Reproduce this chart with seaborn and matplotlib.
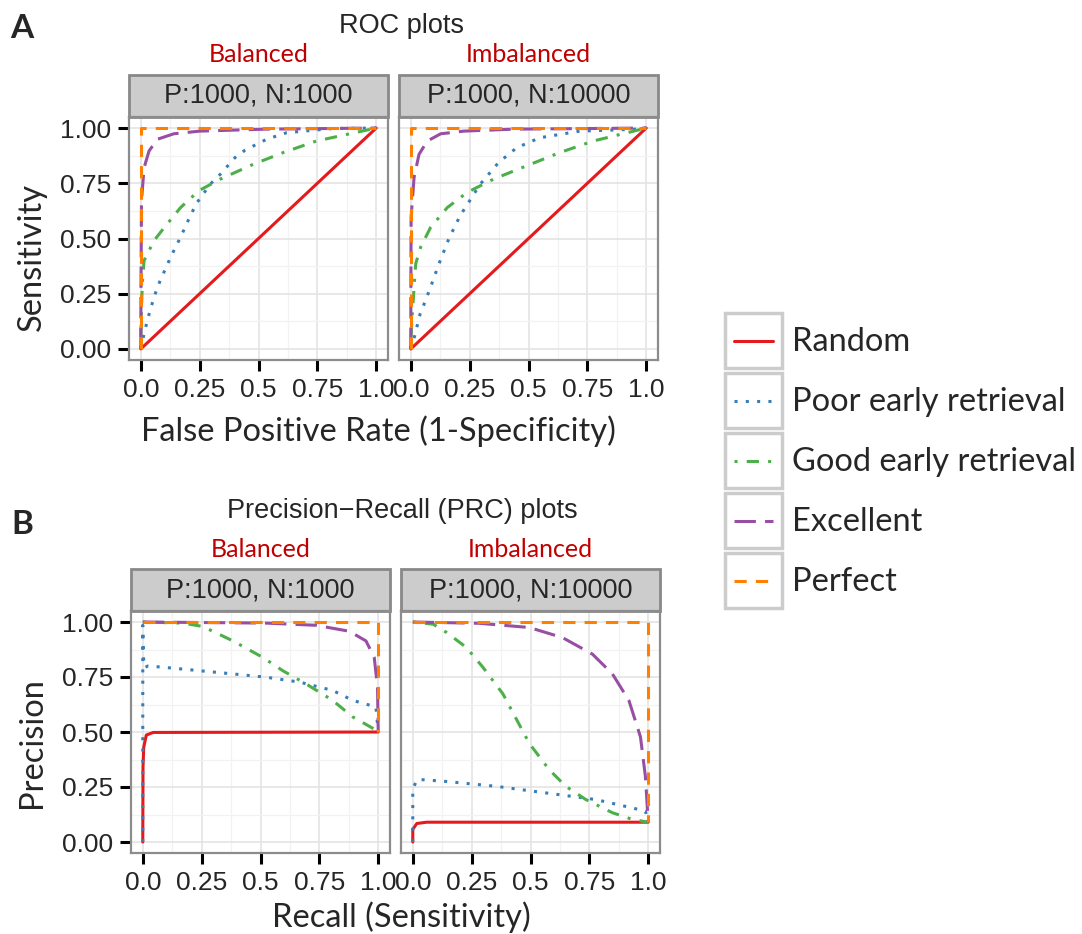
import numpy as np
import pandas as pd
import seaborn as sns
import matplotlib.pyplot as plt
from matplotlib.lines import Line2D
from matplotlib.patches import Rectangle
from matplotlib.legend_handler import HandlerLine2D

# %% data
curves = ['Random', 'Poor early retrieval', 'Good early retrieval', 'Excellent', 'Perfect']
colors = ['#E41A1C', '#377EB8', '#4DAF4A', '#984EA3', '#FF7F00']
linestyles = ['', (1, 2.7), (1, 3, 4, 3), (7, 3), (4, 3)]
strip_labels = ['P:1000, N:1000', 'P:1000, N:10000']
group_labels = ['Balanced', 'Imbalanced']
xtick_vals = [0, 0.25, 0.5, 0.75, 1.0]
xtick_text = ['0.0', '0.25', '0.5', '0.75', '1.0']
ytick_text = ['0.00', '0.25', '0.50', '0.75', '1.00']

# ROC, balanced
roc_bal_random_x = [0, 1]
roc_bal_random_y = [0, 1]
roc_bal_poor_x = [0, 0.01, 0.028, 0.044, 0.06, 0.08, 0.127, 0.169, 0.214, 0.24, 0.295, 0.338, 0.4, 0.443, 0.534, 0.62, 0.816, 1.0]
roc_bal_poor_y = [0, 0.05, 0.13, 0.19, 0.246, 0.303, 0.416, 0.506, 0.611, 0.664, 0.746, 0.791, 0.866, 0.9, 0.949, 0.979, 0.998, 1.0]
roc_bal_good_x = [0, 0.001, 0.003, 0.007, 0.014, 0.056, 0.1, 0.169, 0.246, 0.338, 0.478, 0.605, 0.745, 1.0]
roc_bal_good_y = [0, 0.07, 0.19, 0.303, 0.4, 0.49, 0.55, 0.64, 0.716, 0.769, 0.836, 0.889, 0.941, 1.0]
roc_bal_exc_x = [0, 0.001, 0.003, 0.014, 0.035, 0.07, 0.14, 0.25, 0.53, 1.0]
roc_bal_exc_y = [0, 0.3, 0.67, 0.82, 0.896, 0.949, 0.974, 0.986, 0.995, 1.0]
roc_bal_perf_x = [0, 0, 1]
roc_bal_perf_y = [0, 1, 1]

# ROC, imbalanced
roc_imb_random_x = [0, 1]
roc_imb_random_y = [0, 1]
roc_imb_poor_x = [0, 0.014, 0.04, 0.063, 0.084, 0.12, 0.162, 0.21, 0.246, 0.295, 0.373, 0.45, 0.548, 0.717, 0.942, 1.0]
roc_imb_poor_y = [0, 0.048, 0.16, 0.22, 0.28, 0.386, 0.5, 0.604, 0.664, 0.746, 0.844, 0.911, 0.956, 0.986, 0.994, 1.0]
roc_imb_good_x = [0, 0.003, 0.014, 0.021, 0.042, 0.084, 0.155, 0.24, 0.352, 0.492, 0.633, 0.774, 1.0]
roc_imb_good_y = [0, 0.1, 0.28, 0.386, 0.461, 0.55, 0.64, 0.709, 0.769, 0.829, 0.889, 0.941, 1.0]
roc_imb_exc_x = [0, 0.0005, 0.0014, 0.014, 0.035, 0.07, 0.127, 0.225, 0.436, 1.0]
roc_imb_exc_y = [0, 0.3, 0.596, 0.776, 0.881, 0.941, 0.974, 0.986, 0.995, 1.0]
roc_imb_perf_x = [0, 0, 1]
roc_imb_perf_y = [0, 1, 1]

# PRC, balanced
prc_bal_random_x = [0, 0.001, 0.004, 0.015, 0.044, 1.0]
prc_bal_random_y = [0, 0.34, 0.43, 0.486, 0.498, 0.5]
prc_bal_poor_x = [0, 0, 0.003, 0.008, 0.022, 0.058, 0.17, 0.383, 0.524, 0.665, 0.806, 0.891, 0.99, 1.0]
prc_bal_poor_y = [0, 0.985, 0.838, 0.793, 0.8, 0.797, 0.786, 0.764, 0.749, 0.727, 0.689, 0.644, 0.614, 0.5]
prc_bal_good_x = [0, 0.169, 0.254, 0.383, 0.51, 0.594, 0.693, 0.806, 0.891, 0.99, 1.0]
prc_bal_good_y = [1, 0.995, 0.98, 0.914, 0.839, 0.779, 0.719, 0.644, 0.569, 0.509, 0.5]
prc_bal_exc_x = [0, 0.524, 0.736, 0.877, 0.948, 0.983, 0.997, 1.0]
prc_bal_exc_y = [1, 0.995, 0.985, 0.958, 0.914, 0.839, 0.704, 0.5]
prc_bal_perf_x = [0, 1, 1]
prc_bal_perf_y = [1, 1, 0.5]

# PRC, imbalanced
prc_imb_random_x = [0, 0, 0.017, 0.059, 1.0]
prc_imb_random_y = [0, 0.057, 0.084, 0.09, 0.09]
prc_imb_poor_x = [0, 0, 0.017, 0.045, 0.144, 0.355, 0.566, 0.777, 0.932, 0.988, 1.0]
prc_imb_poor_y = [0, 0.238, 0.283, 0.283, 0.275, 0.253, 0.223, 0.193, 0.155, 0.14, 0.09]
prc_imb_good_x = [0, 0.087, 0.144, 0.228, 0.298, 0.383, 0.495, 0.58, 0.65, 0.735, 0.848, 0.932, 1.0]
prc_imb_good_y = [1, 0.99, 0.952, 0.884, 0.794, 0.673, 0.448, 0.328, 0.253, 0.193, 0.133, 0.103, 0.09]
prc_imb_exc_x = [0, 0.284, 0.495, 0.636, 0.763, 0.848, 0.918, 0.967, 0.988, 1.0]
prc_imb_exc_y = [1, 0.994, 0.975, 0.929, 0.854, 0.764, 0.643, 0.478, 0.298, 0.09]
prc_imb_perf_x = [0, 1, 1]
prc_imb_perf_y = [1, 1, 0.09]

panels = {
    'roc_bal': [(roc_bal_random_x, roc_bal_random_y), (roc_bal_poor_x, roc_bal_poor_y),
                (roc_bal_good_x, roc_bal_good_y), (roc_bal_exc_x, roc_bal_exc_y), (roc_bal_perf_x, roc_bal_perf_y)],
    'roc_imb': [(roc_imb_random_x, roc_imb_random_y), (roc_imb_poor_x, roc_imb_poor_y),
                (roc_imb_good_x, roc_imb_good_y), (roc_imb_exc_x, roc_imb_exc_y), (roc_imb_perf_x, roc_imb_perf_y)],
    'prc_bal': [(prc_bal_random_x, prc_bal_random_y), (prc_bal_poor_x, prc_bal_poor_y),
                (prc_bal_good_x, prc_bal_good_y), (prc_bal_exc_x, prc_bal_exc_y), (prc_bal_perf_x, prc_bal_perf_y)],
    'prc_imb': [(prc_imb_random_x, prc_imb_random_y), (prc_imb_poor_x, prc_imb_poor_y),
                (prc_imb_good_x, prc_imb_good_y), (prc_imb_exc_x, prc_imb_exc_y), (prc_imb_perf_x, prc_imb_perf_y)],
}

rows = []
for key, series in panels.items():
    for name, (xs, ys) in zip(curves, series):
        for x, y in zip(xs, ys):
            rows.append({'panel': key, 'curve': name, 'x': x, 'y': y})
df = pd.DataFrame(rows)

palette = dict(zip(curves, colors))
dashes = dict(zip(curves, linestyles))

# %% figure
sns.set_style('white')
plt.rcParams['font.family'] = ['Liberation Sans', 'DejaVu Sans']
CAL = 'Lato'
LW = 2.2

W, H = 1082, 934
fig = plt.figure(figsize=(W / 100, H / 100), dpi=100)


def px_box(x0, y0, x1, y1):
    return [x0 / W, 1 - y1 / H, (x1 - x0) / W, (y1 - y0) / H]


axes = {
    'roc_bal': fig.add_axes(px_box(129, 117, 388, 360)),
    'roc_imb': fig.add_axes(px_box(399, 117, 658, 360)),
    'prc_bal': fig.add_axes(px_box(131, 611, 390, 853)),
    'prc_imb': fig.add_axes(px_box(401, 611, 660, 853)),
}

for i, (key, ax) in enumerate(axes.items()):
    sub = df[df.panel == key]
    sns.lineplot(data=sub, x='x', y='y', hue='curve', style='curve', hue_order=curves, style_order=curves,
                 palette=palette, dashes=dashes, sort=False, estimator=None, lw=LW, legend=False, ax=ax)
    ax.set_xlim(-0.05, 1.05)
    ax.set_ylim(-0.05, 1.05)
    ax.set_xticks(xtick_vals)
    ax.set_xticklabels(xtick_text)
    ax.set_yticks(xtick_vals)
    ax.set_yticklabels(ytick_text)
    ax.set_xticks([0.125, 0.375, 0.625, 0.875], minor=True)
    ax.set_yticks([0.125, 0.375, 0.625, 0.875], minor=True)
    ax.set_axisbelow(True)
    ax.grid(True, which='major', color='#E2E2E2', lw=1.1)
    ax.grid(True, which='minor', color='#F2F2F2', lw=0.9)
    ax.tick_params(which='minor', length=0)
    ax.tick_params(which='major', length=8, width=2.2, color='black', labelsize=19, pad=5,
                   bottom=True, left=True)
    ax.set_xlabel('')
    ax.set_ylabel('')
    for s in ax.spines.values():
        s.set_color('#8C8C8C')
        s.set_linewidth(1.6)
    if i % 2 == 1:
        ax.tick_params(left=False, labelleft=False)

    # facet strip
    sh = 42 / 243
    ax.add_patch(Rectangle((0, 1), 1, sh, transform=ax.transAxes, clip_on=False,
                           fc='#CCCCCC', ec='#888888', lw=2))
    ax.text(0.5, 1 + sh / 2, strip_labels[i % 2], transform=ax.transAxes, ha='center', va='center',
            fontsize=19.5)
    ax.text(0.5, 1 + 62 / 243, group_labels[i % 2], transform=ax.transAxes, ha='center', va='center',
            fontsize=18, color='#C00000', family=CAL)

# titles and panel letters
fig.text(22 / W, 1 - 28 / H, 'A', fontsize=24, fontweight='bold', family=CAL, ha='center', va='center')
fig.text(22 / W, 1 - 524 / H, 'B', fontsize=24, fontweight='bold', family=CAL, ha='center', va='center')
fig.text(401 / W, 1 - 26 / H, 'ROC plots', fontsize=19.5, ha='center', va='center')
fig.text(402 / W, 1 - 511 / H, 'Precision\u2212Recall (PRC) plots', fontsize=19.5, ha='center', va='center')
fig.text(378 / W, 1 - 431 / H, 'False Positive Rate (1-Specificity)', fontsize=23.5, family=CAL,
         ha='center', va='center')
fig.text(401 / W, 1 - 917 / H, 'Recall (Sensitivity)', fontsize=23.5, family=CAL, ha='center', va='center')
fig.text(32 / W, 1 - 257 / H, 'Sensitivity', fontsize=23.5, family=CAL, rotation=90, ha='center', va='center')
fig.text(32 / W, 1 - 743 / H, 'Precision', fontsize=23.5, family=CAL, rotation=90, ha='center', va='center')


# legend with a grey box round each key
class BoxedLine(HandlerLine2D):
    def create_artists(self, legend, orig_handle, xdescent, ydescent, width, height, fontsize, trans):
        box = Rectangle((-xdescent, -ydescent), width, height, fc='white', ec='#CCCCCC', lw=2.5,
                        transform=trans)
        pad = 0.28 * fontsize
        yc = -ydescent + height / 2
        line = Line2D([-xdescent + pad, -xdescent + width - pad], [yc, yc])
        self.update_prop(line, orig_handle, legend)
        line.set_transform(trans)
        return [box, line]


handles = []
for name in curves:
    h = Line2D([], [], color=palette[name], lw=LW)
    if dashes[name]:
        h.set_dashes(dashes[name])
    handles.append(h)

fig.legend(handles, curves, loc='upper left', bbox_to_anchor=(725 / W, 1 - 313 / H), frameon=False,
           handler_map={Line2D: BoxedLine()}, handlelength=1.75, handleheight=2.22, labelspacing=0.153,
           handletextpad=0.31, borderpad=0, borderaxespad=0, prop={'family': CAL, 'size': 23.5})

fig.savefig('out.png', dpi=100)
